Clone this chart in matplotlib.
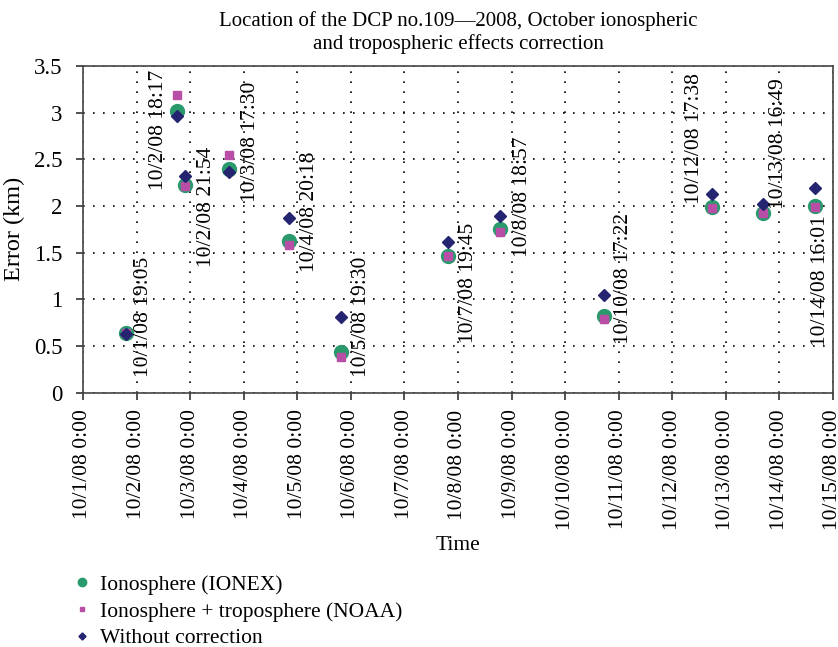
import matplotlib
matplotlib.use("Agg")
import matplotlib.pyplot as plt
import matplotlib.dates as mdates
from datetime import datetime

plt.rcParams['font.family'] = ['Liberation Serif', 'DejaVu Serif']

# ---- data ----
times = ["2008-10-01 19:05", "2008-10-02 18:17", "2008-10-02 21:54", "2008-10-03 17:30",
         "2008-10-04 20:18", "2008-10-05 19:30", "2008-10-07 19:45", "2008-10-08 18:57",
         "2008-10-10 17:22", "2008-10-12 17:38", "2008-10-13 16:49", "2008-10-14 16:01"]
point_labels = ["10/1/08 19:05", "10/2/08 18:17", "10/2/08 21:54", "10/3/08 17:30",
                "10/4/08 20:18", "10/5/08 19:30", "10/7/08 19:45", "10/8/08 18:57",
                "10/10/08 17:22", "10/12/08 17:38", "10/13/08 16:49", "10/14/08 16:01"]
ionex = [0.64, 3.02, 2.22, 2.40, 1.62, 0.44, 1.47, 1.75, 0.82, 1.99, 1.92, 2.00]
noaa = [0.64, 3.19, 2.21, 2.55, 1.585, 0.38, 1.46, 1.72, 0.79, 1.975, 1.92, 1.985]
without = [0.63, 2.96, 2.32, 2.36, 1.87, 0.81, 1.61, 1.89, 1.05, 2.13, 2.02, 2.195]
tick_dates = ["2008-10-%02d" % d for d in range(1, 16)]
tick_labels = ["10/%d/08 0:00" % d for d in range(1, 16)]
y_ticks = [0, 0.5, 1, 1.5, 2, 2.5, 3, 3.5]
y_tick_labels = ["0", "0.5", "1", "1.5", "2", "2.5", "3", "3.5"]

# label offsets (pixels) relative to the IONEX point
label_offsets = [(18, 16), (-19, -19), (21, -21), (21, 27), (21, 30), (21, 35),
                 (20, -27), (22, 33), (20, 38), (-17, 68), (15, 70), (5, -75)]

x = mdates.date2num([datetime.strptime(t, "%Y-%m-%d %H:%M") for t in times])
xt = mdates.date2num([datetime.strptime(t, "%Y-%m-%d") for t in tick_dates])

fig = plt.figure(figsize=(8.38, 6.47), dpi=100)
ax = fig.add_axes([0.099, 0.393, 0.895, 0.505])

FS = 15.5
ax.plot(x, ionex, 'o', color='#2a9a6c', markersize=10, label='Ionosphere (IONEX)', zorder=3)
ax.plot(x, noaa, 's', color='#b84ea6', markersize=5.5, label='Ionosphere + troposphere (NOAA)', zorder=4)
ax.plot(x, without, 'D', color='#242470', markersize=6, label='Without correction', zorder=5)

for xi, yi, lab, (dx, dy) in zip(x, ionex, point_labels, label_offsets):
    ax.annotate(lab, (xi, yi), xytext=(dx, dy), textcoords='offset pixels',
                rotation=90, ha='center', va='center', fontsize=FS, zorder=6)

ax.set_xlim(xt[0], xt[-1])
ax.set_ylim(0, 3.5)
ax.set_xticks(xt)
ax.set_xticklabels(tick_labels, rotation=90, fontsize=FS)
ax.set_yticks(y_ticks)
ax.set_yticklabels(y_tick_labels, fontsize=16.5)
ax.tick_params(direction='out', length=5, width=1.2, color='#333333')
ax.tick_params(axis='x', pad=7)
ax.tick_params(axis='y', pad=10)
ax.grid(True, linestyle=(0, (1, 5)), color='black', linewidth=1.2)
for s in ax.spines.values():
    s.set_color('#444444')
    s.set_linewidth(1.2)

ax.set_xlabel('Time', fontsize=FS, labelpad=4)
ax.set_ylabel('Error (km)', fontsize=17.5, labelpad=6)
ax.set_title('Location of the DCP no.109\u20142008, October ionospheric\n'
             'and tropospheric effects correction', fontsize=15, pad=12)

leg = fig.legend(loc='upper left', bbox_to_anchor=(0.073, 0.128), frameon=False,
                 fontsize=FS, markerscale=0.6, handlelength=0.9, handletextpad=0.4,
                 labelspacing=0.3, borderpad=0)

fig.savefig('out.png', dpi=100)
